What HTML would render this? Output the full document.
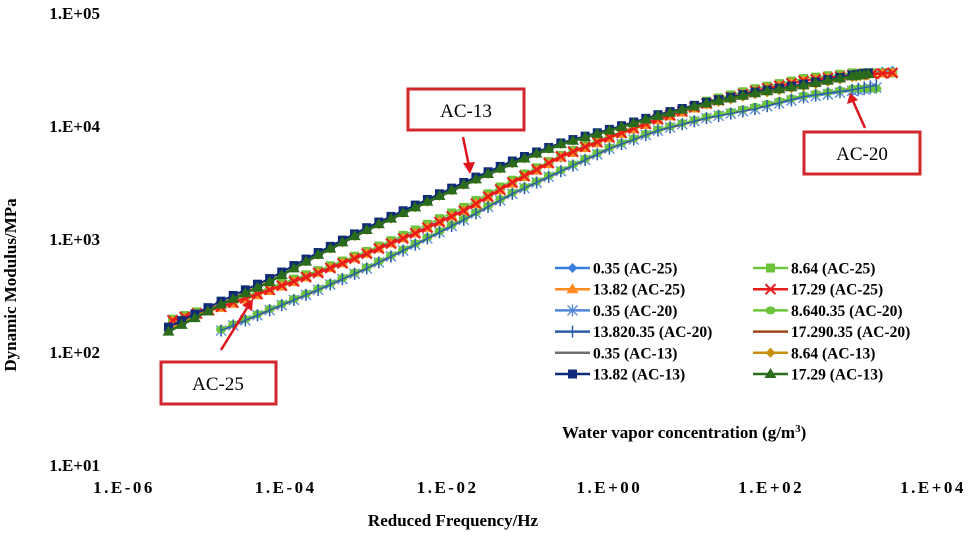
<!DOCTYPE html>
<html><head><meta charset="utf-8"><style>
html,body{margin:0;padding:0;background:#fff;}
svg{display:block;font-family:"Liberation Serif",serif;}
</style></head><body>
<svg id="chart" width="975" height="540" viewBox="0 0 975 540">
<g id="axes"></g>
<g id="series"></g>
<g id="legend"></g>
<g>
  <rect x="408" y="89" width="116" height="41" fill="#fff" stroke="#d0262c" stroke-width="3"/>
  <text x="466" y="117" font-size="19" text-anchor="middle">AC-13</text>
  <line x1="463" y1="137" x2="469" y2="166" stroke="#e0141c" stroke-width="2.5"/>
  <polygon points="463,163 475,162 470,174" fill="#e0141c"/>
  <rect x="804" y="132" width="116" height="42" fill="#fff" stroke="#d0262c" stroke-width="3"/>
  <text x="862" y="160" font-size="19" text-anchor="middle">AC-20</text>
  <line x1="865" y1="128" x2="853" y2="101" stroke="#e0141c" stroke-width="2.5"/>
  <polygon points="847,104 858,100 850,93" fill="#e0141c"/>
  <rect x="161" y="362" width="115" height="42" fill="#fff" stroke="#d0262c" stroke-width="3"/>
  <text x="218" y="390" font-size="19" text-anchor="middle">AC-25</text>
  <line x1="221" y1="350" x2="247" y2="308" stroke="#e0141c" stroke-width="2.5"/>
  <polygon points="242,305 252,311 253,299" fill="#e0141c"/>
</g>
<text x="453" y="526" font-size="17" font-weight="bold" text-anchor="middle">Reduced Frequency/Hz</text>
<text transform="translate(16,285) rotate(-90)" font-size="17" font-weight="bold" text-anchor="middle">Dynamic Modulus/MPa</text>
<text x="562" y="438" font-size="17" font-weight="bold">Water vapor concentration (g/m<tspan baseline-shift="super" font-size="11">3</tspan>)</text>
</svg>
<script>
// ---- data (log10 frequency, log10 modulus) ----
const xTickLabels = ["1.E-06","1.E-04","1.E-02","1.E+00","1.E+02","1.E+04"];
const xTickValues = [-6,-4,-2,0,2,4];
const yTickLabels = ["1.E+01","1.E+02","1.E+03","1.E+04","1.E+05"];
const yTickValues = [1,2,3,4,5];

const freqAC25 = [-5.4,-4.8,-4.2,-3.6,-3.0,-2.4,-1.8,-1.2,-0.6,0,0.6,1.2,1.8,2.4,3.0,3.5];
const freqAC13 = [-5.45,-4.8,-4.2,-3.6,-3.0,-2.4,-1.8,-1.2,-0.6,0,0.6,1.2,1.8,2.4,3.0,3.2];
const freqAC20 = [-4.8,-4.2,-3.6,-3.0,-2.4,-1.8,-1.2,-0.6,0,0.6,1.2,1.8,2.4,3.0,3.3];

const modAC25_035  = [2.27,2.40,2.55,2.71,2.88,3.06,3.26,3.50,3.72,3.90,4.05,4.20,4.31,4.40,4.46,4.49];
const modAC25_864  = [2.29,2.42,2.57,2.72,2.89,3.08,3.28,3.52,3.74,3.91,4.07,4.22,4.33,4.42,4.47,4.47];
const modAC25_1382 = [2.27,2.39,2.54,2.70,2.87,3.05,3.25,3.49,3.72,3.89,4.05,4.19,4.31,4.40,4.45,4.47];
const modAC25_1729 = [2.28,2.40,2.55,2.70,2.87,3.05,3.25,3.50,3.73,3.90,4.06,4.20,4.31,4.40,4.45,4.47];

const modAC13_035  = [2.18,2.42,2.62,2.85,3.07,3.27,3.47,3.66,3.83,3.96,4.08,4.18,4.27,4.34,4.42,4.44];
const modAC13_864  = [2.20,2.43,2.63,2.86,3.08,3.28,3.48,3.67,3.84,3.96,4.09,4.19,4.28,4.35,4.43,4.45];
const modAC13_1382 = [2.22,2.45,2.65,2.88,3.10,3.30,3.50,3.69,3.85,3.97,4.10,4.21,4.30,4.37,4.45,4.47];
const modAC13_1729 = [2.18,2.42,2.62,2.86,3.08,3.28,3.48,3.67,3.84,3.96,4.09,4.20,4.29,4.36,4.44,4.46];

const modAC20_035  = [2.19,2.37,2.55,2.74,2.95,3.17,3.40,3.60,3.80,3.96,4.07,4.15,4.25,4.31,4.34];
const modAC20_864  = [2.20,2.38,2.56,2.75,2.96,3.18,3.41,3.61,3.81,3.97,4.08,4.17,4.27,4.33,4.33];
const modAC20_1382 = [2.19,2.37,2.55,2.74,2.95,3.17,3.40,3.60,3.80,3.96,4.07,4.15,4.26,4.32,4.36];
const modAC20_1729 = [2.19,2.37,2.55,2.74,2.95,3.17,3.40,3.60,3.80,3.96,4.07,4.16,4.26,4.33,4.36];

// ---- scales ----
const X0 = 124, XPX = 80.9;   // px at 1e-6, px per decade
const Y0 = 465, YPX = 113;    // px at 1e1, px per decade
function xScale(v){ return X0 + (v + 6) * XPX; }
function yScale(v){ return Y0 - (v - 1) * YPX; }

const NS = "http://www.w3.org/2000/svg";
function mk(tag, attrs, parent){
  const e = document.createElementNS(NS, tag);
  for (const k in attrs) e.setAttribute(k, attrs[k]);
  parent.appendChild(e);
  return e;
}

// axes labels
const axes = document.getElementById("axes");
xTickLabels.forEach((lab, i) => {
  const t = mk("text", {x: xScale(xTickValues[i]), y: 493, "font-size": 17, "font-weight": "bold", "text-anchor": "middle", "letter-spacing": "2.5"}, axes);
  
  
  t.textContent = lab;
});
yTickLabels.forEach((lab, i) => {
  const t = mk("text", {x: 100, y: yScale(yTickValues[i]) + 6, "font-size": 17, "font-weight": "bold", "text-anchor": "end"}, axes);
  
  
  t.textContent = lab;
});

// marker drawing
function marker(g, type, cx, cy, color){
  let e;
  if (type === "diamond") e = mk("polygon", {points: `${cx},${cy-5} ${cx+5},${cy} ${cx},${cy+5} ${cx-5},${cy}`, fill: color}, g);
  else if (type === "square") e = mk("rect", {x: cx-4.5, y: cy-4.5, width: 9, height: 9, fill: color}, g);
  else if (type === "triangle") e = mk("polygon", {points: `${cx},${cy-6} ${cx+6},${cy+4} ${cx-6},${cy+4}`, fill: color}, g);
  else if (type === "x") e = mk("path", {d: `M${cx-5},${cy-5}L${cx+5},${cy+5}M${cx+5},${cy-5}L${cx-5},${cy+5}`, stroke: color, "stroke-width": 2}, g);
  else if (type === "star") e = mk("path", {d: `M${cx-5},${cy-5}L${cx+5},${cy+5}M${cx+5},${cy-5}L${cx-5},${cy+5}M${cx},${cy-6}L${cx},${cy+6}`, stroke: color, "stroke-width": 1.3}, g);
  else if (type === "circle") e = mk("ellipse", {cx: cx, cy: cy, rx: 5, ry: 4, fill: color}, g);
  else if (type === "plus") e = mk("path", {d: `M${cx},${cy-6}L${cx},${cy+6}`, stroke: color, "stroke-width": 1.5}, g);
  if (e){
    
    
  }
}

const seriesDefs = [
  {name:"ac20-17.29", xs:freqAC20, ys:modAC20_1729, color:"#a0451a", m:"none", w:2.5},
  {name:"ac20-0.35", xs:freqAC20, ys:modAC20_035, color:"#4f86d9", m:"star", w:1.5},
  {name:"ac20-8.64", xs:freqAC20, ys:modAC20_864, color:"#6cc43a", m:"circle", w:1.5},
  {name:"ac20-13.82", xs:freqAC20, ys:modAC20_1382, color:"#2c5ea8", m:"plus", w:1.5},
  {name:"ac25-0.35", xs:freqAC25, ys:modAC25_035, color:"#3a7fe0", m:"diamond", w:1.5},
  {name:"ac25-8.64", xs:freqAC25, ys:modAC25_864, color:"#6cc43a", m:"square", w:1.5},
  {name:"ac25-13.82", xs:freqAC25, ys:modAC25_1382, color:"#ff8a1f", m:"triangle", w:1.5},
  {name:"ac25-17.29", xs:freqAC25, ys:modAC25_1729, color:"#e81c1c", m:"x", w:2.5},
  {name:"ac13-0.35", xs:freqAC13, ys:modAC13_035, color:"#707070", m:"none", w:1.5},
  {name:"ac13-8.64", xs:freqAC13, ys:modAC13_864, color:"#c8900a", m:"diamond", w:1.5},
  {name:"ac13-13.82", xs:freqAC13, ys:modAC13_1382, color:"#0f2a78", m:"square", w:2},
  {name:"ac13-17.29", xs:freqAC13, ys:modAC13_1729, color:"#2a6b1c", m:"triangle", w:2.5}
];

const sg = document.getElementById("series");
seriesDefs.forEach(s => {
  const g = mk("g", {}, sg);
  
  
  const pts = s.xs.map((x, i) => [xScale(x), yScale(s.ys[i])]);
  const pl = mk("polyline", {points: pts.map(p => p.join(",")).join(" "), fill: "none", stroke: s.color, "stroke-width": s.w, "stroke-linejoin": "round"}, g);
  
  
  if (s.m !== "none"){
    // markers at data points and midpoints between them (dense marker look)
    for (let i = 0; i < pts.length; i++){
      marker(g, s.m, pts[i][0], pts[i][1], s.color);
      if (i < pts.length - 1){
        for (let k = 1; k < 4; k++){
          const f = k / 4;
          marker(g, s.m, pts[i][0] + (pts[i+1][0]-pts[i][0])*f, pts[i][1] + (pts[i+1][1]-pts[i][1])*f, s.color);
        }
      }
    }
  }
});

// legend
const legendItems = [
  {label:"0.35  (AC-25)", color:"#3a7fe0", m:"diamond"},
  {label:"8.64  (AC-25)", color:"#6cc43a", m:"square"},
  {label:"13.82  (AC-25)", color:"#ff8a1f", m:"triangle"},
  {label:"17.29  (AC-25)", color:"#e81c1c", m:"x"},
  {label:"0.35  (AC-20)", color:"#4f86d9", m:"star"},
  {label:"8.640.35  (AC-20)", color:"#6cc43a", m:"circle"},
  {label:"13.820.35  (AC-20)", color:"#2c5ea8", m:"plus"},
  {label:"17.290.35  (AC-20)", color:"#a0451a", m:"none"},
  {label:"0.35  (AC-13)", color:"#707070", m:"none"},
  {label:"8.64  (AC-13)", color:"#c8900a", m:"diamond"},
  {label:"13.82  (AC-13)", color:"#0f2a78", m:"square"},
  {label:"17.29  (AC-13)", color:"#2a6b1c", m:"triangle"}
];
const lg = document.getElementById("legend");
legendItems.forEach((it, i) => {
  const col = i % 2, row = Math.floor(i / 2);
  const lx = col ? 753 : 555, ly = 268 + row * 21.2;
  const g = mk("g", {}, lg);
  
  
  mk("line", {x1: lx, y1: ly, x2: lx + 35, y2: ly, stroke: it.color, "stroke-width": 2.5}, g);
  if (it.m !== "none") marker(g, it.m, lx + 17.5, ly, it.color);
  const t = mk("text", {x: lx + 38, y: ly + 5.5, "font-size": 15.5, "font-weight": "bold"}, g);
  
  
  t.textContent = it.label;
});
</script>
</body></html>
